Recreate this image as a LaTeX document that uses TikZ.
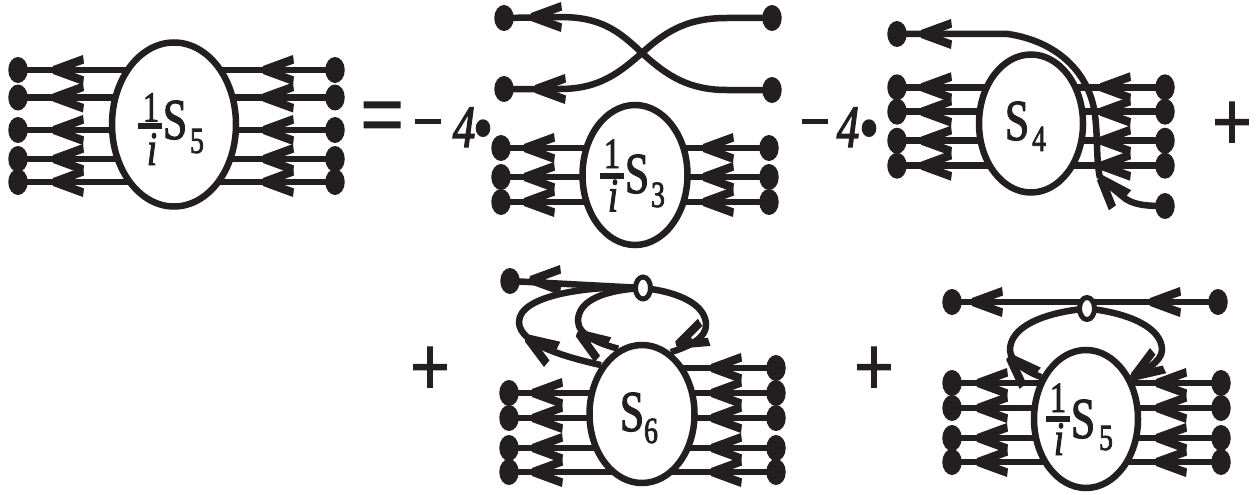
\documentclass[tikz,border=0pt]{standalone}
\usepackage{fontspec}
\setmainfont{Liberation Serif}
\newfontfamily\labs[FakeStretch=.75,FakeBold=2]{Liberation Serif}
\newfontfamily\opsf[FakeStretch=.8,FakeBold=3]{Liberation Serif}
\usetikzlibrary{shapes.geometric,backgrounds}
\definecolor{ink}{HTML}{231F20}
\tikzset{
  enddot/.style={ellipse,fill=ink,minimum width=19.5pt,minimum height=26pt,inner sep=0pt},
  blob/.style={ellipse,draw=ink,fill=white,line width=6.5pt,inner sep=0pt},
  vertex/.style={ellipse,draw=ink,fill=white,line width=5pt,minimum width=15pt,minimum height=22pt,inner sep=0pt},
  wire/.style={draw=ink,line width=6.5pt},
  txt/.style={anchor=base,inner sep=0pt,text=ink},
  bar/.style={fill=ink,inner sep=0pt,minimum width=24pt,minimum height=6pt},
}
\newcommand\fs[1]{\labs\fontsize{#1}{#1}\selectfont}
\newcommand\fsi[1]{\labs\itshape\fontsize{#1}{#1}\selectfont}
\newcommand\fo[1]{\opsf\fontsize{#1}{#1}\selectfont}
% arrow head: tip at (#1,#2), rotated by #3
\newcommand\hd[3]{\fill[ink,shift={(#1,#2)},rotate=#3] (-1,0)--(0,-4)--(30,-15)--(31,-6.5)--(16,-1)--(16,1)--(31,6.5)--(30,15)--(0,4)--cycle;}
% leg: name, blob, dot x, y, head tip x
\newcommand\leg[5]{\node[enddot] (#1) at (#3,#4) {};
  \begin{pgfonlayer}{background}\draw[wire] (#1.center)--(#2.center |- #1.center);\end{pgfonlayer}
  \hd{#5}{#4}{0}}
\newcommand\lbl[4]{\node[txt] at (#1,#2) {#3#4};}
\begin{document}
\begin{tikzpicture}[x=1pt,y=-1pt]
\useasboundingbox (0,0) rectangle (1258,495);
\begin{pgfonlayer}{background}\fill[white] (0,0) rectangle (1258,495);\end{pgfonlayer}

% ---------- diagram 1
\node[blob,minimum width=124pt,minimum height=164pt] (A) at (174,124.5) {};
\foreach \n/\y in {1/70,2/97.5,3/130,4/159,5/182}{
  \leg{Al\n}{A}{18}{\y}{53}
  \leg{Ar\n}{A}{335}{\y}{263}
}
\lbl{151}{121.5}{\fs{43}}{1}
\node[bar] (Ab) at (150,126) {};
\lbl{152}{165}{\fsi{48}}{i}
\lbl{175}{139}{\fs{58}}{S}
\lbl{197}{153}{\fs{37}}{5}

% ---------- operators
\lbl{382}{148}{\fs{100}}{=}
\lbl{428}{135}{\fo{58}}{–}
\lbl{464}{147}{\fsi{60}}{4}
\lbl{483}{150}{\fo{66}}{•}
\lbl{815}{135}{\fo{58}}{–}
\lbl{848}{147}{\fsi{60}}{4}
\lbl{869}{150}{\fo{66}}{•}
\lbl{1232}{150}{\fo{84}}{+}
\lbl{430}{395}{\fo{84}}{+}
\lbl{874}{395}{\fo{84}}{+}

% ---------- diagram 2
\node[enddot] (Bl1) at (504,18) {};
\node[enddot] (Bl2) at (504,89) {};
\node[enddot] (Br1) at (772,18) {};
\node[enddot] (Br2) at (772,90) {};
\draw[wire] (Br1.center) -- (727,18) .. controls (690,18) and (668,29) .. (642,53) .. controls (620,72) and (600,89) .. (560,89) -- (Bl2.center);
\draw[wire] (Br2.center) -- (727,90) .. controls (690,90) and (668,77) .. (642,53) .. controls (618,30) and (600,17) .. (560,17) -- (Bl1.center);
\hd{531}{17}{0}
\hd{535}{89}{0}
\node[blob,minimum width=105pt,minimum height=140pt] (B) at (635,175) {};
\foreach \n/\y in {1/148,2/177,3/202}{
  \leg{Bc\n}{B}{501}{\y}{524}
  \leg{Bd\n}{B}{769}{\y}{703}
}
\lbl{612}{168}{\fs{43}}{1}
\node[bar] (Bb) at (612,175.5) {};
\lbl{613}{211.5}{\fsi{48}}{i}
\lbl{637}{193}{\fs{58}}{S}
\lbl{658}{207}{\fs{37}}{3}

% ---------- diagram 3
\node[blob,minimum width=104pt,minimum height=138pt] (C) at (1031,123.5) {};
\foreach \n/\y in {1/87.3,2/111.7,3/140.7,4/165.7}{
  \leg{Cl\n}{C}{897}{\y}{921}
  \leg{Cr\n}{C}{1165}{\y}{1100}
}
\lbl{1017}{140}{\fs{58}}{S}
\lbl{1039}{151}{\fs{37}}{4}
\node[enddot] (Ct) at (897,34) {};
\node[enddot] (Cb) at (1165,206) {};
\coordinate (Ctip) at (1100,178);
\draw[wire] (Ct.center) -- (1008,34) .. controls (1060,42) and (1090,75) .. (1095,115) .. controls (1098,140) and (1096,160) .. (Ctip);
\draw[wire] (Ctip) -- (1122,196) .. controls (1132,205) and (1145,206) .. (Cb.center);
\hd{921}{34}{0}
\hd{1100}{178}{-48}

% ---------- diagram 4
\node[blob,minimum width=105pt,minimum height=138pt] (D) at (642,414) {};
\foreach \n/\y in {1/393,2/418,3/448,4/472}{
  \leg{Dl\n}{D}{509}{\y}{532}
}
\foreach \n/\y in {0/368,1/393,2/418,3/448,4/472}{
  \leg{Dr\n}{D}{776}{\y}{711}
}
\lbl{632}{431}{\fs{58}}{S}
\lbl{651}{443}{\fs{37}}{6}
\node[enddot] (Dt) at (510,281) {};
\node[vertex] (Dv) at (643,288) {};
\begin{pgfonlayer}{background}
\draw[wire] (Dt.center) -- (Dv.center);
\draw[wire] (Dv.center) .. controls (590,285) and (519,295) .. (519,322) .. controls (519,345) and (570,358) .. (D.130);
\draw[wire] (Dv.center) .. controls (605,290) and (578,300) .. (578,321) .. controls (578,335) and (600,344) .. (D.110);
\draw[wire] (Dv.center) .. controls (680,292) and (706,305) .. (706,325) .. controls (706,338) and (690,346) .. (D.65);
\end{pgfonlayer}
\hd{530}{280}{0}
\hd{527}{338}{-33}
\hd{578}{333}{-34}
\hd{677}{345}{25}

% ---------- diagram 5
\node[blob,minimum width=104pt,minimum height=138pt] (E) at (1086,419) {};
\foreach \n/\y in {1/383,2/408,3/438,4/462}{
  \leg{El\n}{E}{952}{\y}{977}
  \leg{Er\n}{E}{1221}{\y}{1156}
}
\lbl{1058}{412}{\fs{43}}{1}
\node[bar] (Eb) at (1058,419) {};
\lbl{1059}{455}{\fsi{48}}{i}
\lbl{1083}{438}{\fs{58}}{S}
\lbl{1106}{450}{\fs{37}}{5}
\node[enddot] (Et1) at (952,302) {};
\node[enddot] (Et2) at (1218,302) {};
\node[vertex] (Ev) at (1087,308.5) {};
\begin{pgfonlayer}{background}
\draw[wire] (Et1.center) -- (Et2.center);
\draw[wire] (Ev.center) .. controls (1040,313) and (1010,328) .. (1010,350) .. controls (1010,362) and (1028,372) .. (E.137);
\draw[wire] (Ev.center) .. controls (1130,313) and (1162,328) .. (1162,350) .. controls (1162,362) and (1142,372) .. (E.42);
\end{pgfonlayer}
\hd{972}{302}{0}
\hd{1150}{302}{0}
\hd{1009}{357}{-45}
\hd{1133}{377}{33}
\end{tikzpicture}
\end{document}
